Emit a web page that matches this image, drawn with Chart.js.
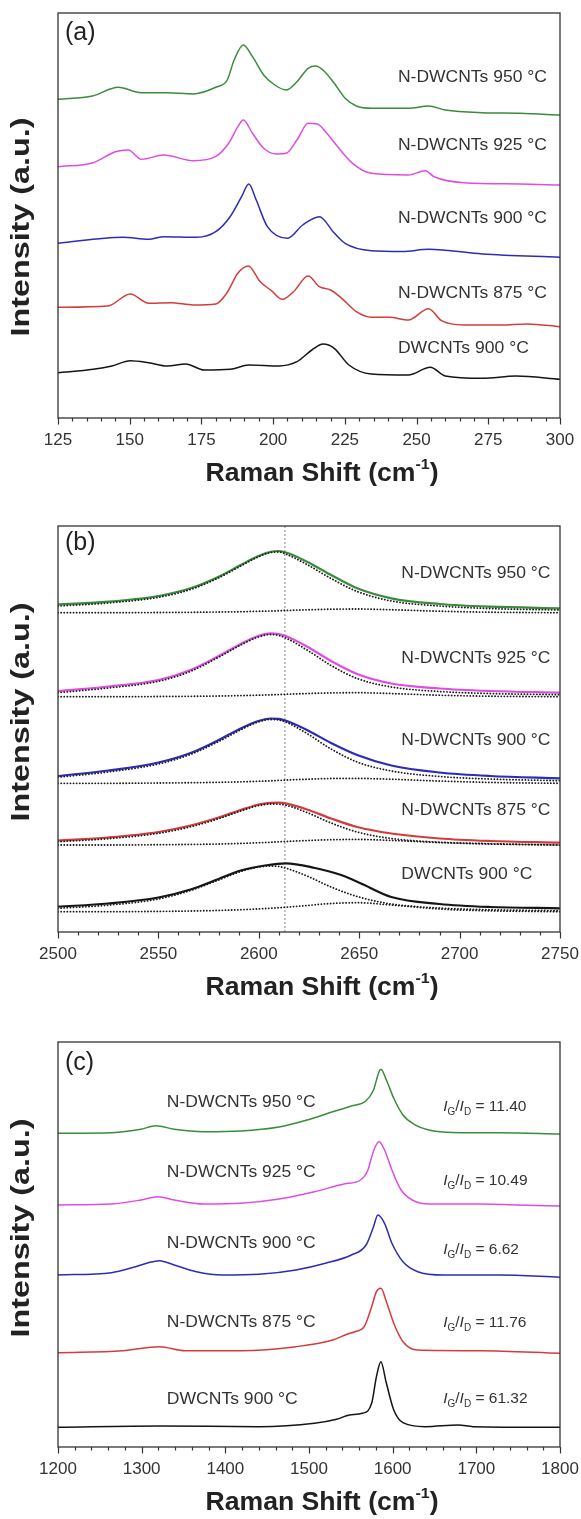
<!DOCTYPE html>
<html>
<head>
<meta charset="utf-8">
<script src="https://cdn.jsdelivr.net/npm/chart.js@4.4.1/dist/chart.umd.min.js"></script>
<style>
  html, body { margin: 0; padding: 0; background: #fff; }
  .panel { position: absolute; left: 0; width: 581px; }
</style>
</head>
<body>
<div class="panel" style="top:0;height:513px"><canvas id="chartA"></canvas></div>
<div class="panel" style="top:513px;height:516px"><canvas id="chartB"></canvas></div>
<div class="panel" style="top:1029px;height:490px"><canvas id="chartC"></canvas></div>
<script>
// Raman spectra of DWCNTs / N-DWCNTs - three stacked panels (RBM, G', D+G)
// intensities are arbitrary, offset per sample as in the figure

const samples = ['N-DWCNTs 950 \u00B0C', 'N-DWCNTs 925 \u00B0C', 'N-DWCNTs 900 \u00B0C', 'N-DWCNTs 875 \u00B0C', 'DWCNTs 900 \u00B0C'];
const ratioIGID = ['11.40', '10.49', '6.62', '11.76', '61.32'];

const ticksA = [125, 150, 175, 200, 225, 250, 275, 300];
const ticksB = [2500, 2550, 2600, 2650, 2700, 2750];
const ticksC = [1200, 1300, 1400, 1500, 1600, 1700, 1800];

// ---- (a) radial breathing mode region ----
const shiftA950 = [125, 137, 146, 154, 163, 172, 180, 184, 186.4, 189.6, 192.8, 196.7, 200.6, 204.5, 208.3, 212.2, 214.8, 218, 221.3, 225.1, 229, 234.2, 247, 254.2, 260, 273, 286, 300];
const intA950 = [318.7, 322, 330.7, 325.3, 325.3, 324, 330.7, 338, 358, 373, 361.3, 343, 333, 328, 336.3, 349.7, 352, 346.3, 334.7, 319.7, 312, 309.7, 309.7, 312, 308, 305.3, 304.7, 303];

const shiftA925 = [125, 137.3, 145, 149.5, 154.1, 161.8, 172.2, 179.9, 184.5, 187.7, 189.6, 192.8, 196.7, 201.2, 204.5, 208.3, 212.2, 215.4, 218.7, 222.5, 227.7, 234.2, 247.1, 253, 256.1, 266.5, 285.8, 300];
const intA925 = [251.3, 255.3, 266.3, 268, 258.7, 263, 257.3, 261.3, 274.7, 291.3, 298, 284.7, 269.7, 264, 264.7, 278, 294.7, 294, 284.7, 271.3, 254.7, 244.7, 243, 247.3, 241.3, 235.3, 234, 233];

const shiftA900 = [125, 147.6, 156.6, 161.8, 173.4, 180, 185, 189, 191.5, 194.1, 198, 205, 210.3, 216.1, 221.3, 225.1, 234.2, 245, 254.2, 273, 300];
const intA900 = [174.7, 180.7, 178.7, 181.3, 180.7, 186.3, 201.3, 221.3, 234, 218, 191.3, 179.7, 193, 201.3, 185, 174.7, 167.3, 166.5, 168.7, 164, 160.7];

const shiftA875 = [125, 142.4, 150.2, 156.6, 164.4, 172.2, 180, 183.8, 187.7, 191.3, 195.5, 199.4, 203.2, 207.1, 212.2, 216.1, 220, 223.9, 229, 234.2, 240.6, 247.1, 254.2, 258.7, 266.5, 279.4, 288.5, 300];
const intA875 = [110.7, 112, 124, 114.7, 115.3, 113, 114, 124.7, 144.7, 152, 136.3, 127.3, 118.7, 126.3, 142, 131.3, 128, 119.7, 106.3, 100.7, 100.7, 98, 109.3, 97.3, 93, 93, 94, 91.3];

const shiftA0 = [125, 137.3, 143.8, 150.2, 156.6, 163.1, 169.5, 176, 185, 191.5, 201.9, 208.3, 213.5, 217.4, 221.3, 226.4, 234.2, 247.1, 254.8, 260, 273, 284.6, 300];
const intA0 = [45.3, 48.7, 52, 57.3, 55.3, 52, 54, 48, 48.7, 53, 52, 56.3, 68, 74, 69.7, 53, 44, 43, 50.7, 42, 39.7, 42, 38.7];

// ---- (b) G' band with two-component fits ----
const shiftB = [2500, 2525, 2550, 2566, 2580, 2591, 2599, 2606, 2610, 2614, 2624, 2636, 2649, 2666, 2690, 2715, 2750];
const intB950 = [327.7, 330.3, 336, 343.7, 355.3, 367, 375.3, 380.3, 381, 379.3, 370.3, 357, 343.7, 333.7, 328, 325.3, 323.7];
const fitB950 = [326, 329, 334.7, 342.5, 354.2, 366, 374.5, 379.5, 380, 377.5, 367.5, 353.5, 340.5, 331, 326, 323.5, 322];
const fit2B950 = [319.3, 319.3, 319.5, 319.7, 320, 320.3, 320.7, 321, 321.3, 321.6, 322.2, 322.8, 323, 322.3, 320.8, 319.8, 319.3];
const intB925 = [241, 245.5, 252, 262, 276, 288, 295.5, 298.7, 298, 295.5, 285.5, 271, 258, 248.5, 243.5, 241, 239.3];
const fitB925 = [239.3, 244, 250.7, 260.7, 274.8, 287, 294.5, 297.5, 296.5, 293.5, 282, 266.5, 253.5, 245, 240.5, 238.5, 237.3];
const fit2B925 = [235.3, 235.3, 235.5, 235.7, 236, 236.4, 236.8, 237.2, 237.5, 237.8, 238.5, 239.1, 239.3, 238.5, 236.8, 235.8, 235.3];
const intB900 = [156, 161.5, 169.5, 179, 192, 203.5, 210.5, 213.5, 213.2, 211, 202, 189, 177, 166.5, 159.5, 156, 153.7];
const fitB900 = [154.7, 160, 168, 177.6, 190.5, 202.2, 209.5, 212.5, 212, 209.5, 198.5, 183, 170, 161, 155.5, 153, 151.3];
const fit2B900 = [148.7, 148.7, 149, 149.3, 149.7, 150.2, 150.7, 151.2, 151.6, 152, 152.8, 153.5, 153.6, 152.8, 151, 149.6, 148.7];
const intB875 = [91.3, 94.5, 100, 106.5, 114.5, 122, 127, 129.2, 129.3, 128.3, 122.5, 113.5, 105, 98.5, 93.5, 91, 89.3];
const fitB875 = [90.3, 93.3, 98.7, 105.2, 113.3, 121, 126, 128, 127.8, 126.5, 119.5, 109, 100, 93.5, 89.8, 88.3, 87];
const fit2B875 = [87, 87, 87.3, 87.6, 88, 88.6, 89.2, 89.8, 90.2, 90.6, 91.5, 92.3, 92.6, 91.6, 89.5, 88, 87];
const shiftB0 = [2500, 2525, 2550, 2566, 2580, 2591, 2603, 2613.5, 2628, 2641, 2652, 2666, 2690, 2715, 2750];
const intB0 = [25.3, 28.5, 34.5, 42.5, 53, 61.5, 66.5, 68.7, 64, 57, 47.5, 35, 28, 25, 23.7];
const fitB0 = [23.7, 26.8, 33, 41.5, 52, 60.5, 64.5, 66, 65.5, 63.5, 56, 45, 35.5, 28, 24, 22.3, 21.3];
const fit2B0 = [20.3, 20.3, 20.6, 21, 21.6, 22.3, 23, 23.8, 24.3, 24.9, 26.5, 28.5, 29.3, 27, 23, 21.2, 20.3];
const peakLineB = 2613;

// ---- (c) D and G bands ----
const shiftC950 = [1200, 1264, 1299.2, 1316.9, 1338.9, 1374.2, 1418.3, 1462.4, 1497.7, 1528.5, 1550.6, 1568.2, 1577.1, 1583.7, 1585.9, 1592.5, 1601.3, 1612.3, 1625.6, 1643.2, 1682.9, 1727, 1800];
const intC950 = [313.7, 314.3, 317.7, 321.3, 317.7, 315.3, 316, 319.7, 327, 335.3, 341, 346.3, 357, 375.3, 377.7, 367, 348.7, 332, 322.7, 317, 314.3, 314.3, 313];
const shiftC925 = [1200, 1264, 1299.2, 1319.1, 1338.9, 1374.2, 1418.3, 1462.4, 1506.5, 1541.8, 1561.6, 1570.4, 1574.9, 1579.3, 1583.7, 1590.3, 1599.1, 1610.1, 1623.4, 1643.2, 1704.9, 1749, 1800];
const intC925 = [242, 243, 247, 250.3, 247, 243, 243.7, 247.7, 255.3, 263, 267, 277, 290, 300.5, 305.3, 297, 277, 257, 247, 243, 243, 242, 241];
const shiftC900 = [1200, 1264, 1290.4, 1308, 1321.3, 1338.9, 1365.4, 1396.2, 1440.3, 1484.4, 1519.7, 1550.6, 1568.2, 1577.1, 1582.3, 1590.3, 1599.1, 1612.3, 1630, 1660.8, 1727, 1800];
const intC900 = [172, 174.3, 179.7, 184.3, 186.3, 182, 175.3, 172, 172.7, 177, 183.7, 192, 202, 220.3, 232, 223.7, 203.7, 185.3, 175.3, 172, 172, 169.7];
const shiftC875 = [1200, 1277.2, 1321.3, 1352.1, 1418.3, 1484.4, 1528.5, 1546.2, 1555, 1566, 1574.9, 1580.6, 1585.9, 1592.5, 1601.3, 1612.3, 1630, 1704.9, 1800];
const intC875 = [94.3, 96.3, 100.3, 96.3, 96.3, 100.3, 107, 113, 115.3, 120.3, 140.3, 155.3, 158.7, 145.3, 123.7, 105.3, 97, 96.3, 93.7];
const shiftC0 = [1200, 1321.3, 1440.3, 1506.5, 1533, 1548.4, 1563.8, 1574.9, 1580.6, 1585.9, 1592.5, 1601.3, 1612.3, 1638.8, 1678.5, 1696.1, 1800];
const intC0 = [19.7, 21, 20.3, 23.7, 27.7, 32, 33.7, 43.7, 70.3, 85.3, 63.7, 37, 24.3, 20.3, 22, 20.3, 19.7];

const colors = ['#3a8c3a', '#e04ce0', '#2c2cb4', '#d33c3c', '#151515'];
const FONT = "'Liberation Sans', Arial, Helvetica, sans-serif";

function pts(xs, ys) {
    return xs.map(function(x, i) { return { x: x, y: ys[i] }; });
}

function line(xs, ys, color, width) {
    return {
        data: pts(xs, ys), borderColor: color, borderWidth: width,
        pointRadius: 0, fill: false, cubicInterpolationMode: 'monotone', order: 1
    };
}

function dotted(xs, ys) {
    return {
        data: pts(xs, ys), borderColor: '#1a1a1a', borderWidth: 1.8, borderDash: [0.1, 3],
        borderCapStyle: 'round', pointRadius: 0, fill: false, cubicInterpolationMode: 'monotone', order: 0
    };
}

// text squeezed/stretched horizontally to a target width
function fitText(ctx, parts, x, y, width, align) {
    let natural = 0;
    parts.forEach(function(p) { ctx.font = p.font; natural += ctx.measureText(p.t).width; });
    const s = width ? width / natural : 1;
    const start = align === 'center' ? -natural / 2 : 0;
    ctx.save();
    ctx.translate(x, y);
    ctx.scale(s, 1);
    ctx.textAlign = 'left';
    ctx.textBaseline = 'middle';
    let cx = start;
    parts.forEach(function(p) {
        ctx.font = p.font;
        ctx.fillText(p.t, cx, p.dy || 0);
        cx += ctx.measureText(p.t).width;
    });
    ctx.restore();
}

const decor = {
    id: 'decor',
    afterDraw: function(chart, args, o) {
        const ctx = chart.ctx, ca = chart.chartArea;
        const xs = chart.scales.x, ys = chart.scales.y;
        ctx.save();
        // frame
        ctx.strokeStyle = '#333';
        ctx.lineWidth = 1.3;
        ctx.strokeRect(ca.left, ca.top, ca.right - ca.left, ca.bottom - ca.top);
        // major + minor ticks
        const major = o.ticks;
        const stepMin = (major[1] - major[0]) / 5;
        const nMin = Math.round((major[major.length - 1] - major[0]) / stepMin);
        ctx.lineWidth = 1.2;
        for (let i = 0; i <= nMin; i++) {
            const px = Math.round(xs.getPixelForValue(major[0] + i * stepMin)) + 0.5;
            const len = (i % 5 === 0) ? 6.5 : 3.5;
            ctx.beginPath();
            ctx.moveTo(px, ca.bottom);
            ctx.lineTo(px, ca.bottom + len);
            ctx.stroke();
        }
        ctx.fillStyle = '#222';
        // y title
        ctx.save();
        ctx.translate(22, ca.top + o.yTitleOffset);
        ctx.rotate(-Math.PI / 2);
        fitText(ctx, [{ t: 'Intensity (a.u.)', font: 'bold 25px ' + FONT }], 0, 0, 219, 'center');
        ctx.restore();
        // x title with superscript
        fitText(ctx, [
            { t: 'Raman Shift (cm', font: 'bold 25px ' + FONT },
            { t: '-1', font: 'bold 15px ' + FONT, dy: -9 },
            { t: ')', font: 'bold 25px ' + FONT }
        ], 322, ca.bottom + 56, 233, 'center');
        // panel letter
        ctx.font = '25px ' + FONT;
        ctx.textBaseline = 'middle';
        ctx.textAlign = 'left';
        ctx.fillText(o.letter, 65, ca.top + o.letterOffset);
        // sample labels
        ctx.fillStyle = '#333';
        o.labelY.forEach(function(lv, i) {
            const px = xs.getPixelForValue(o.labelX);
            const py = ys.getPixelForValue(lv);
            const w = i === 4 ? 131 : 149;
            fitText(ctx, [{ t: samples[i], font: '16.5px ' + FONT }], px, py, w, 'left');
        });
        // I_G/I_D ratios
        if (o.ratioY) {
            o.ratioY.forEach(function(lv, i) {
                const px = xs.getPixelForValue(o.ratioX);
                const py = ys.getPixelForValue(lv);
                fitText(ctx, [
                    { t: 'I', font: 'italic 15.5px ' + FONT },
                    { t: 'G', font: '10px ' + FONT, dy: 5 },
                    { t: '/', font: '15.5px ' + FONT },
                    { t: 'I', font: 'italic 15.5px ' + FONT },
                    { t: 'D', font: '10px ' + FONT, dy: 5 },
                    { t: ' = ' + ratioIGID[i], font: '15.5px ' + FONT }
                ], px, py, null, 'left');
            });
        }
        ctx.restore();
    }
};

function makePanel(id, datasets, xmin, xmax, ymax, ticks, padBottom, deco) {
    return new Chart(document.getElementById(id).getContext('2d'), {
        type: 'line',
        data: { datasets: datasets },
        options: {
            responsive: true,
            maintainAspectRatio: false,
            animation: false,
            layout: { padding: { left: 58, right: 21, top: 13, bottom: padBottom } },
            plugins: { legend: { display: false }, tooltip: { enabled: false }, decor: deco },
            scales: {
                x: {
                    type: 'linear', min: xmin, max: xmax,
                    afterBuildTicks: function(scale) { scale.ticks = ticks.map(function(v) { return { value: v }; }); },
                    afterFit: function(scale) { scale.height = 30; scale.paddingLeft = 0; scale.paddingRight = 0; },
                    grid: { display: false, drawTicks: false },
                    border: { display: false },
                    ticks: {
                        autoSkip: false, maxRotation: 0, padding: 12, color: '#333',
                        font: { family: FONT, size: 17 },
                        callback: function(v) { return String(v); }
                    }
                },
                y: { display: false, min: 0, max: ymax }
            }
        },
        plugins: [decor]
    });
}

makePanel('chartA', [
    line(shiftA950, intA950, colors[0], 1.5),
    line(shiftA925, intA925, colors[1], 1.5),
    line(shiftA900, intA900, colors[2], 1.5),
    line(shiftA875, intA875, colors[3], 1.5),
    line(shiftA0, intA0, colors[4], 1.5)
], 125, 300, 405, ticksA, 65, {
    ticks: ticksA, letter: '(a)', letterOffset: 20, yTitleOffset: 214,
    labelX: 243.5, labelY: [341, 273, 200, 125, 70]
});

const centerLine = {
    data: [{ x: peakLineB, y: 0 }, { x: peakLineB, y: 406 }],
    borderColor: '#8a8a8a', borderWidth: 1, borderDash: [2, 2], pointRadius: 0, order: 2
};

makePanel('chartB', [
    line(shiftB, intB950, colors[0], 2.2), dotted(shiftB, fitB950), dotted(shiftB, fit2B950),
    line(shiftB, intB925, colors[1], 2.2), dotted(shiftB, fitB925), dotted(shiftB, fit2B925),
    line(shiftB, intB900, colors[2], 2.2), dotted(shiftB, fitB900), dotted(shiftB, fit2B900),
    line(shiftB, intB875, colors[3], 2.2), dotted(shiftB, fitB875), dotted(shiftB, fit2B875),
    line(shiftB0, intB0, colors[4], 2.2), dotted(shiftB, fitB0), dotted(shiftB, fit2B0),
    centerLine
], 2500, 2750, 406, ticksB, 67, {
    ticks: ticksB, letter: '(b)', letterOffset: 17, yTitleOffset: 186,
    labelX: 2671, labelY: [359, 274, 192, 122, 58]
});

makePanel('chartC', [
    line(shiftC950, intC950, colors[0], 1.5),
    line(shiftC925, intC925, colors[1], 1.5),
    line(shiftC900, intC900, colors[2], 1.5),
    line(shiftC875, intC875, colors[3], 1.5),
    line(shiftC0, intC0, colors[4], 1.5)
], 1200, 1800, 405, ticksC, 42, {
    ticks: ticksC, letter: '(c)', letterOffset: 21, yTitleOffset: 186,
    labelX: 1330, labelY: [345, 275, 204, 125, 48],
    ratioX: 1660.4, ratioY: [340, 266, 197, 124, 48]
});
</script>
</body>
</html>
